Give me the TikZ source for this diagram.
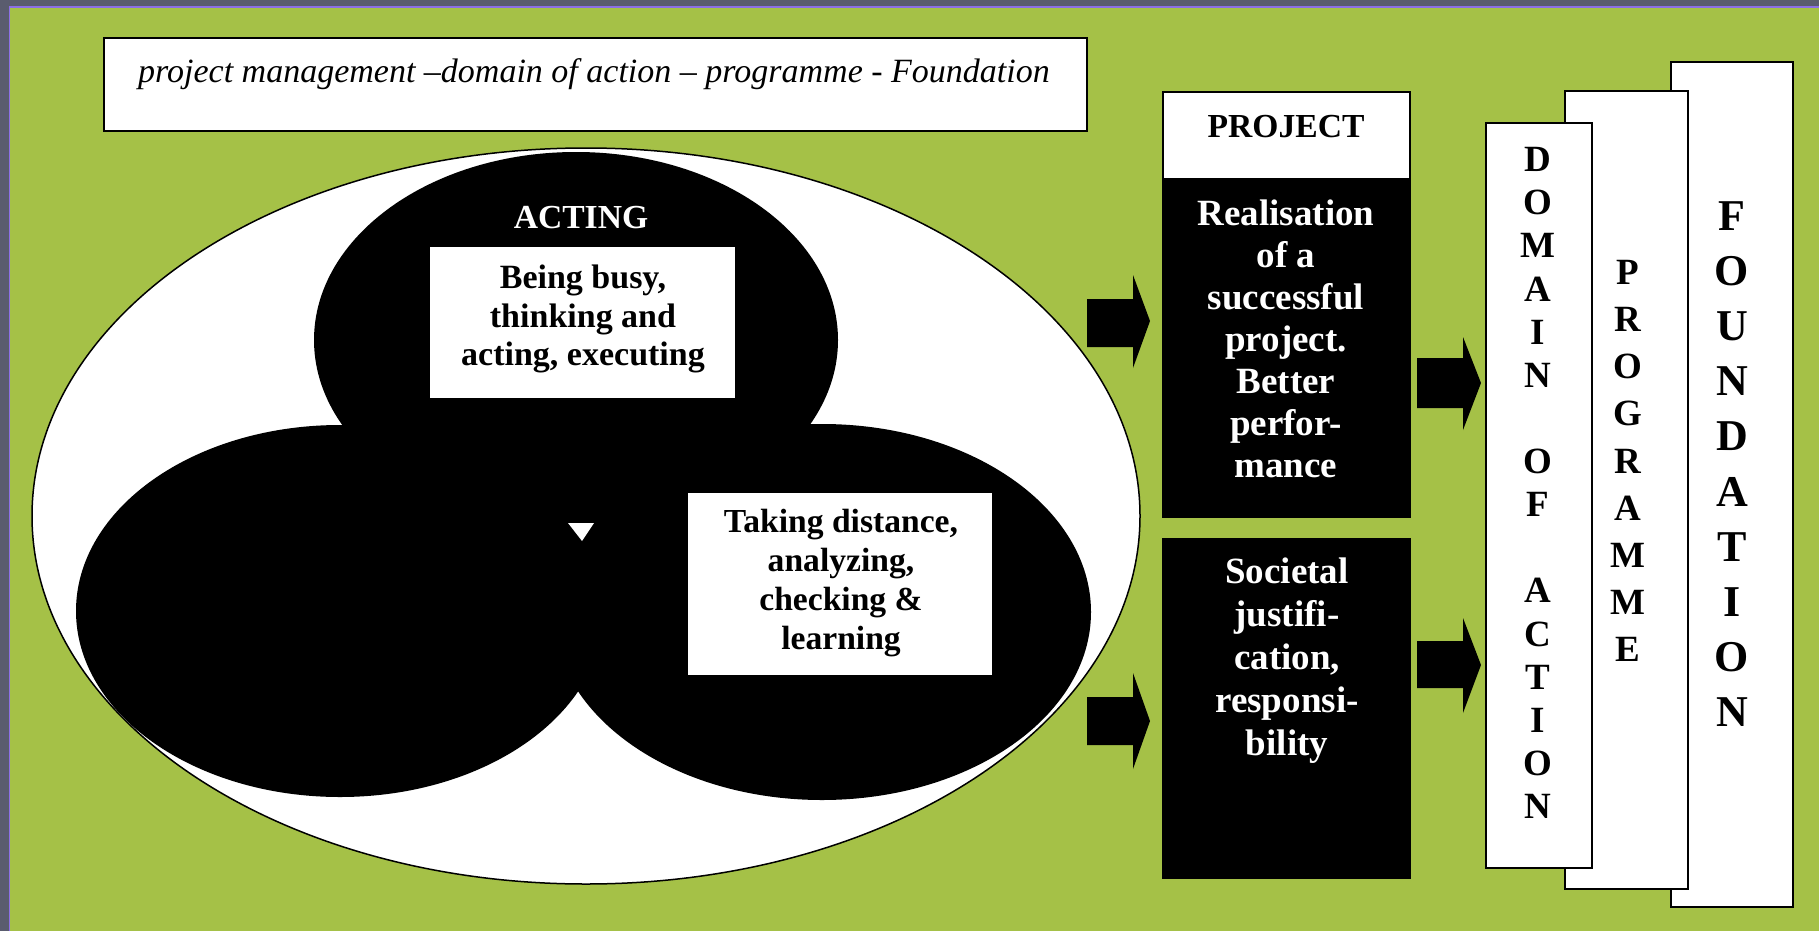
\documentclass[tikz,border=0pt]{standalone}
\usepackage{fontspec}
\setmainfont{Liberation Serif}
\usetikzlibrary{shapes.geometric}
\definecolor{bggreen}{HTML}{A5C147}
\definecolor{framegrey}{HTML}{5A5C6E}
\definecolor{framepurple}{HTML}{8C6FE6}
\tikzset{
  blackell/.style={ellipse, fill=black, inner sep=0pt},
  whitebox/.style={rectangle, fill=white, inner sep=0pt},
  blackbox/.style={rectangle, fill=black, inner sep=0pt},
  framebox/.style={rectangle, draw=black, fill=white, line width=1.8pt, inner sep=0pt},
  blockarrow/.style={fill=black},
  btxt/.style 2 args={inner sep=0pt, align=center, font=\fontsize{#1}{#2}\selectfont\bfseries},
}
\begin{document}
\begin{tikzpicture}[x=1pt,y=-1pt]
\useasboundingbox (0,0) rectangle (1819,931);
% background and frame
\fill[bggreen] (0,0) rectangle (1819,931);
\fill[framegrey] (0,0) rectangle (1819,6);
\fill[framegrey] (0,0) rectangle (8.5,931);
\draw[framepurple, line width=1.6pt] (9.3,931) -- (9.3,6.8) -- (1819,6.8);

% title
\node[framebox, line width=2pt, minimum width=983pt, minimum height=93pt] (titlebox) at (595.5,84.5) {};
\node[inner sep=0pt, anchor=base, font=\fontsize{34}{40}\selectfont\itshape] (title) at (594,83)
  {project management –domain of action – programme - Foundation};

% big ellipse with three black ellipses
\node[ellipse, draw=black, fill=white, line width=1.5pt, inner sep=0pt,
      minimum width=1108pt, minimum height=736pt] (outer) at (586,516) {};
\node[blackell, minimum width=524pt, minimum height=376pt] (topell) at (576,340) {};
\node[blackell, minimum width=528pt, minimum height=372pt] (leftell) at (340,611) {};
\node[blackell, minimum width=538pt, minimum height=376pt] (rightell) at (822,612) {};
\fill[white] (568,523) -- (594,523) -- (582,541) -- cycle;

\node[btxt={33.6}{38.5}, text=white, anchor=base] (acting) at (581,228) {ACTING};
\node[whitebox, minimum width=305pt, minimum height=151pt] (busybox) at (582.5,322.5) {};
\node[btxt={34}{38.5}] (busy) at (583,319) {Being busy,\\thinking and\\acting, executing};
\node[whitebox, minimum width=304pt, minimum height=182pt] (distbox) at (840,584) {};
\node[btxt={33.6}{39}] (dist) at (841,583.5) {Taking distance,\\analyzing,\\checking \&\\learning};

% block arrows
\fill[blockarrow] (1087,299) -- (1133,299) -- (1133,275) -- (1150,321) -- (1133,368) -- (1133,347) -- (1087,347) -- cycle;
\fill[blockarrow] (1087,697) -- (1133,697) -- (1133,673) -- (1150,721) -- (1133,769) -- (1133,745) -- (1087,745) -- cycle;
\fill[blockarrow] (1417,358) -- (1463,358) -- (1463,337) -- (1481,383) -- (1463,430) -- (1463,408) -- (1417,408) -- cycle;
\fill[blockarrow] (1417,641) -- (1463,641) -- (1463,618) -- (1481,665) -- (1463,713) -- (1463,688) -- (1417,688) -- cycle;

% project column
\node[framebox, line width=1.5pt, minimum width=247pt, minimum height=87pt] (projhead) at (1286.5,135.5) {};
\node[btxt={33.6}{38}, anchor=base] (projtxt) at (1286,138) {PROJECT};
\node[blackbox, minimum width=249pt, minimum height=339pt] (realbox) at (1286.5,348.5) {};
\node[btxt={37}{42}, text=white] (real) at (1286,338.5)
  {Realisation\\of a\\successful\\project.\\Better\\perfor-\\mance};
\node[blackbox, minimum width=249pt, minimum height=341pt] (socbox) at (1286.5,708.5) {};
\node[btxt={37}{43}, text=white] (soc) at (1287,660.5)
  {Societal\\justifi-\\cation,\\responsi-\\bility};

% stacked boxes
\node[framebox, minimum width=122pt, minimum height=845pt] (foundbox) at (1732,484.5) {};
\node[framebox, minimum width=123pt, minimum height=798pt] (progbox) at (1626.5,490) {};
\node[framebox, minimum width=106pt, minimum height=745pt] (domainbox) at (1539,495.5) {};
\node[btxt={37}{43.13}] (domain) at (1538,483)
  {D\\O\\M\\A\\I\\N\\\mbox{}\\O\\F\\\mbox{}\\A\\C\\T\\I\\O\\N};
\node[btxt={37}{47.125}] (prog) at (1628,461) {P\\R\\O\\G\\R\\A\\M\\M\\E};
\node[btxt={44}{55.2}] (found) at (1732,464) {F\\O\\U\\N\\D\\A\\T\\I\\O\\N};
\end{tikzpicture}
\end{document}
